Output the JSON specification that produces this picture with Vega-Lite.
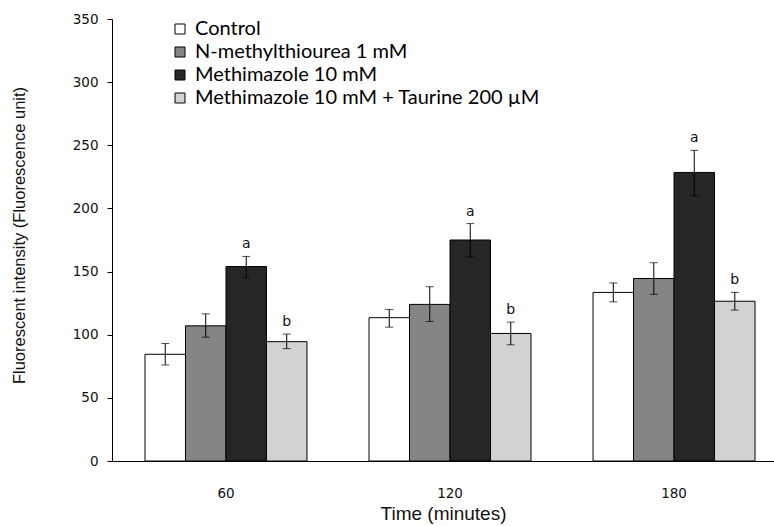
{
  "$schema": "https://vega.github.io/schema/vega-lite/v6.json",
  "width": 662,
  "height": 442,
  "autosize": {"type": "none"},
  "padding": {"left": 112, "top": 19, "right": 0, "bottom": 65},
  "background": "white",
  "config": {
    "view": {"stroke": null},
    "axis": {"grid": false, "domainColor": "black", "tickColor": "black", "labelColor": "#111", "titleColor": "#111", "titleFontWeight": "normal"}
  },
  "data": {
    "values": [
      {"time": "60", "group": "Control", "mean": 84.5, "lo": 76, "hi": 93, "sig": ""},
      {"time": "60", "group": "N-methylthiourea 1 mM", "mean": 107, "lo": 98, "hi": 116.5, "sig": ""},
      {"time": "60", "group": "Methimazole 10 mM", "mean": 154, "lo": 145, "hi": 162, "sig": "a"},
      {"time": "60", "group": "Methimazole 10 mM + Taurine 200 µM", "mean": 94.5, "lo": 89, "hi": 100.5, "sig": "b"},
      {"time": "120", "group": "Control", "mean": 113.5, "lo": 106, "hi": 120, "sig": ""},
      {"time": "120", "group": "N-methylthiourea 1 mM", "mean": 124, "lo": 110.5, "hi": 138, "sig": ""},
      {"time": "120", "group": "Methimazole 10 mM", "mean": 175, "lo": 161.5, "hi": 188, "sig": "a"},
      {"time": "120", "group": "Methimazole 10 mM + Taurine 200 µM", "mean": 101, "lo": 92, "hi": 110, "sig": "b"},
      {"time": "180", "group": "Control", "mean": 133.5, "lo": 126, "hi": 141, "sig": ""},
      {"time": "180", "group": "N-methylthiourea 1 mM", "mean": 144.5, "lo": 132, "hi": 157, "sig": ""},
      {"time": "180", "group": "Methimazole 10 mM", "mean": 228.5, "lo": 210, "hi": 246, "sig": "a"},
      {"time": "180", "group": "Methimazole 10 mM + Taurine 200 µM", "mean": 126.5, "lo": 119.5, "hi": 133.5, "sig": "b"}
    ]
  },
  "encoding": {
    "x": {
      "field": "time", "type": "nominal", "sort": ["60", "120", "180"],
      "scale": {"paddingInner": 0.277, "paddingOuter": 0.116, "align": 0.635},
      "axis": {"title": "Time (minutes)", "labelAngle": 0, "ticks": false, "labelPadding": 25, "labelFont": "DejaVu Sans", "labelFontSize": 13.5, "titleFont": "Liberation Sans", "titleFontSize": 19, "titlePadding": 5}
    },
    "xOffset": {
      "field": "group", "type": "nominal",
      "sort": ["Control", "N-methylthiourea 1 mM", "Methimazole 10 mM", "Methimazole 10 mM + Taurine 200 µM"],
      "scale": {"paddingInner": 0, "paddingOuter": 0}
    }
  },
  "layer": [
    {
      "mark": {"type": "bar", "stroke": "black", "strokeWidth": 1},
      "encoding": {
        "y": {
          "field": "mean", "type": "quantitative", "title": "Fluorescent intensity  (Fluorescence unit)",
          "scale": {"domain": [0, 350]},
          "axis": {"values": [0, 50, 100, 150, 200, 250, 300, 350], "tickSize": 5, "labelPadding": 9, "labelFont": "DejaVu Sans", "labelFontSize": 13.5, "titleFont": "Liberation Sans", "titleFontSize": 16.5, "titleX": -93, "titleY": 216, "titleBaseline": "middle"}
        },
        "fill": {
          "field": "group", "type": "nominal",
          "sort": ["Control", "N-methylthiourea 1 mM", "Methimazole 10 mM", "Methimazole 10 mM + Taurine 200 µM"],
          "scale": {"domain": ["Control", "N-methylthiourea 1 mM", "Methimazole 10 mM", "Methimazole 10 mM + Taurine 200 µM"], "range": ["#ffffff", "#858585", "#262626", "#d2d2d2"]},
          "legend": {"title": null, "orient": "none", "legendX": 58, "legendY": 0, "labelFont": "Lato", "labelFontSize": 20, "labelLimit": 0, "labelColor": "black", "symbolType": "square", "symbolSize": 100, "symbolStrokeColor": "black", "symbolStrokeWidth": 1, "rowPadding": 3, "labelOffset": 5}
        }
      }
    },
    {
      "mark": {"type": "rule", "color": "black", "strokeWidth": 1},
      "encoding": {
        "y": {"field": "lo", "type": "quantitative", "title": "Fluorescent intensity  (Fluorescence unit)"},
        "y2": {"field": "hi"}
      }
    },
    {
      "mark": {"type": "tick", "color": "black", "size": 8, "thickness": 1},
      "encoding": {
        "y": {"field": "lo", "type": "quantitative", "title": "Fluorescent intensity  (Fluorescence unit)"}
      }
    },
    {
      "mark": {"type": "tick", "color": "black", "size": 8, "thickness": 1},
      "encoding": {
        "y": {"field": "hi", "type": "quantitative", "title": "Fluorescent intensity  (Fluorescence unit)"}
      }
    },
    {
      "mark": {"type": "text", "dy": -12, "font": "DejaVu Sans", "fontSize": 14, "color": "#111"},
      "encoding": {
        "y": {"field": "hi", "type": "quantitative", "title": "Fluorescent intensity  (Fluorescence unit)"},
        "text": {"field": "sig"}
      }
    }
  ]
}
